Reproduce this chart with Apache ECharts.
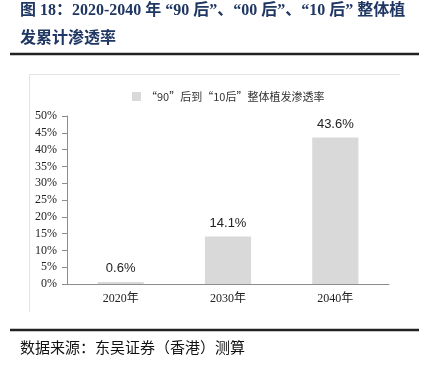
<!DOCTYPE html>
<html>
<head>
<meta charset="utf-8">
<script src="https://cdn.jsdelivr.net/npm/echarts@6/dist/echarts.min.js"></script>
<style>
  html, body { margin: 0; padding: 0; background: #fff; }
  #chart { width: 425px; height: 365px; }
</style>
</head>
<body>
<div id="chart"></div>
<script>
// data
const years = ["2020年", "2030年", "2040年"];
const rates = [0.6, 14.1, 43.6];
const seriesName = "“90”后到“10后”整体植发渗透率";
const titleLines = ["图 18：2020-2040 年 “90 后”、“00 后”、“10 后” 整体植", "发累计渗透率"];
const sourceText = "数据来源：东吴证券（香港）测算";

const serif = '"Liberation Serif", "Noto Sans CJK SC", serif';
const cjk = '"Noto Sans CJK SC", "Liberation Serif", serif';

const chart = echarts.init(document.getElementById("chart"));

const option = {
    animation: false,
    backgroundColor: "#fff",
    graphic: [
        // title
        { type: "text", left: 20, top: 3, style: { text: titleLines[0], font: 'bold 16px ' + serif, fill: "#1f3762" } },
        { type: "text", left: 20, top: 31, style: { text: titleLines[1], font: 'bold 16px ' + serif, fill: "#1f3762" } },
        // separators
        { type: "line", shape: { x1: 10, y1: 54, x2: 419, y2: 54 }, style: { stroke: "#222", lineWidth: 2.5 } },
        { type: "line", shape: { x1: 10, y1: 330, x2: 419, y2: 330 }, style: { stroke: "#222", lineWidth: 2.5 } },
        // chart frame (top + left edges)
        { type: "line", shape: { x1: 29, y1: 74.5, x2: 400, y2: 74.5 }, style: { stroke: "#e3e3e3", lineWidth: 1 } },
        { type: "line", shape: { x1: 29.5, y1: 74, x2: 29.5, y2: 312 }, style: { stroke: "#e3e3e3", lineWidth: 1 } },
        // source
        { type: "text", left: 20, top: 340, style: { text: sourceText, font: '15px ' + cjk, fill: "#111" } }
    ],
    legend: {
        top: 86,
        left: 127,
        itemWidth: 9,
        itemHeight: 9,
        itemGap: 8,
        icon: "rect",
        textStyle: { fontFamily: cjk, fontSize: 11, color: "#333" },
        data: [seriesName]
    },
    grid: { left: 67, right: 36, top: 116, bottom: 81 },
    xAxis: {
        type: "category",
        data: years,
        axisLine: { lineStyle: { color: "#8c8c8c" } },
        axisTick: { inside: true, length: 4, lineStyle: { color: "#8c8c8c" } },
        axisLabel: { fontFamily: serif, fontSize: 12, color: "#222", margin: 9 }
    },
    yAxis: {
        type: "value",
        min: 0,
        max: 50,
        interval: 5,
        axisLine: { show: true, lineStyle: { color: "#8c8c8c" } },
        axisTick: { show: true, length: 5, lineStyle: { color: "#8c8c8c" } },
        splitLine: { show: false },
        axisLabel: { formatter: "{value}%", fontFamily: serif, fontSize: 12, color: "#222", margin: 10 }
    },
    series: [
        {
            name: seriesName,
            type: "bar",
            data: rates,
            barWidth: "43%",
            itemStyle: { color: "#d9d9d9" },
            label: {
                show: true,
                position: "top",
                distance: 7,
                formatter: (p) => p.value.toFixed(1) + "%",
                fontFamily: '"Liberation Sans", Arial, sans-serif',
                fontSize: 13,
                color: "#222"
            }
        }
    ]
};

chart.setOption(option);
</script>
</body>
</html>
